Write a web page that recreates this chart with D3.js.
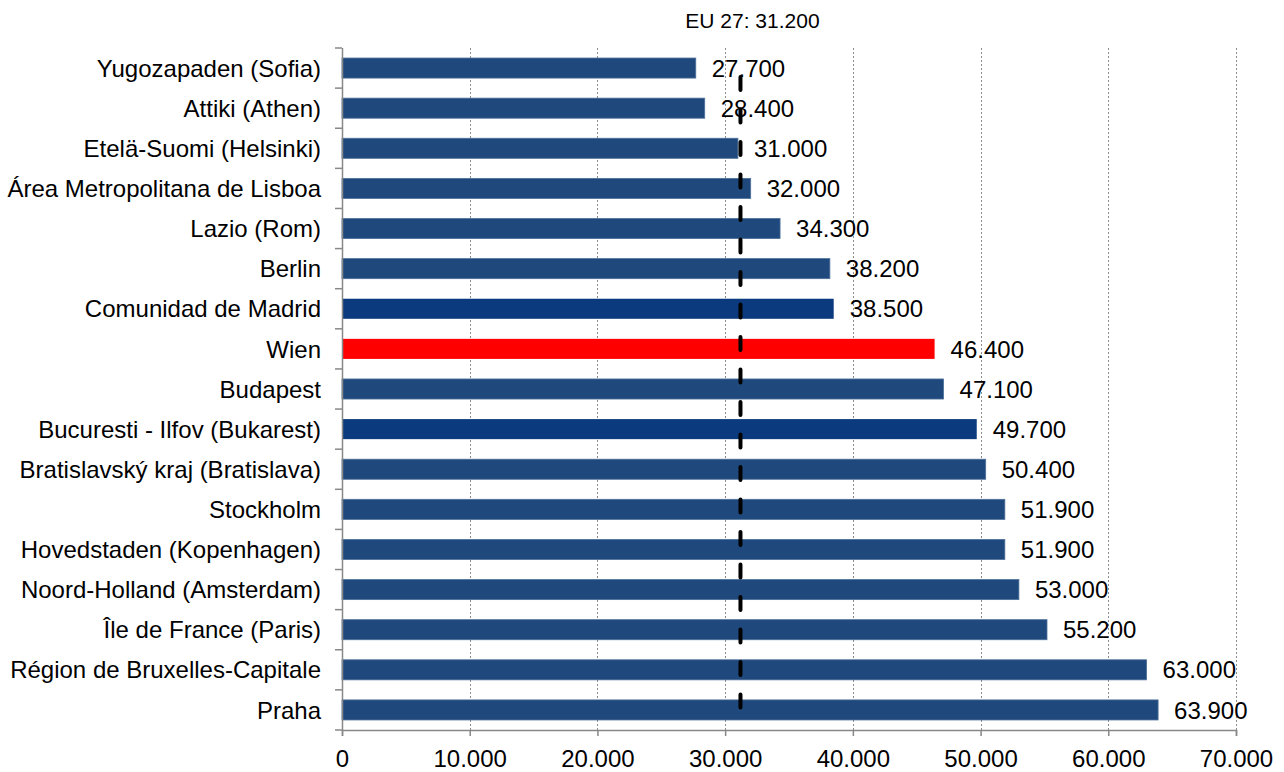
<!DOCTYPE html>
<html><head><meta charset="utf-8">
<script src="https://cdn.jsdelivr.net/npm/d3@7/dist/d3.min.js"></script>
<style>body{margin:0;background:#fff}svg{display:block}text{font-family:"Liberation Sans",Arial,sans-serif}</style>
</head><body><svg id="c" width="1284" height="772"></svg>
<script>
const categories = ["Yugozapaden (Sofia)","Attiki (Athen)","Etelä-Suomi (Helsinki)","Área Metropolitana de Lisboa","Lazio (Rom)","Berlin","Comunidad de Madrid","Wien","Budapest","Bucuresti - Ilfov (Bukarest)","Bratislavský kraj (Bratislava)","Stockholm","Hovedstaden (Kopenhagen)","Noord-Holland (Amsterdam)","Île de France (Paris)","Région de Bruxelles-Capitale","Praha"];
const values = [27700,28400,31000,32000,34300,38200,38500,46400,47100,49700,50400,51900,51900,53000,55200,63000,63900];
const highlight = ["normal","normal","normal","normal","normal","normal","dark","red","normal","dark","normal","normal","normal","normal","normal","normal","normal"];
const euAverage = 31200;
const euLabel = "EU 27: 31.200";
const xTicks = [0,10000,20000,30000,40000,50000,60000,70000];

const colors = {normal:"#1F497D", dark:"#0B3A7E", red:"#FF0000"};
const fmt = v => v === 0 ? "0" : d3.format(",.3f")(v/1000).replace(",", "");

const svg = d3.select("#c");
const m = {left:342, top:48, right:1236, bottom:730};
const x = d3.scaleLinear().domain([0,70000]).range([m.left, m.right]);
const y = d3.scaleBand().domain(categories).range([m.top, m.bottom]).paddingInner(0.5).paddingOuter(0.25);
const FS = 24;

// gridlines
svg.append("g").selectAll("line").data(xTicks.slice(1)).join("line")
  .attr("x1", d=>Math.round(x(d))+0.5).attr("x2", d=>Math.round(x(d))+0.5)
  .attr("y1", m.top).attr("y2", m.bottom)
  .attr("stroke","#8c8c8c").attr("stroke-width",1).attr("stroke-dasharray","2,2");

// bars
svg.append("g").selectAll("rect").data(categories).join("rect")
  .attr("x", x(0)).attr("y", d=>y(d))
  .attr("width", (d,i)=>x(values[i])-x(0)).attr("height", y.bandwidth())
  .attr("fill", (d,i)=>colors[highlight[i]])
  .attr("stroke", (d,i)=>highlight[i]==="normal" ? "#4D6F99" : "none").attr("stroke-width",0.8);

// value labels
svg.append("g").selectAll("text").data(categories).join("text")
  .attr("x", (d,i)=>x(values[i])+16).attr("y", d=>y(d)+y.bandwidth()/2)
  .attr("dy","0.36em").attr("font-size",FS).attr("fill","#000")
  .text((d,i)=>fmt(values[i]));

// y axis
const yAxis = svg.append("g").attr("transform",`translate(${m.left},0)`);
yAxis.append("line").attr("x1",0.5).attr("x2",0.5).attr("y1",m.top).attr("y2",m.bottom).attr("stroke","#888").attr("stroke-width",1.5);
const bounds = d3.range(categories.length+1).map(i=>m.top + i*(m.bottom-m.top)/categories.length);
yAxis.selectAll("line.t").data(bounds).join("line").attr("class","t")
  .attr("x1",-7).attr("x2",0).attr("y1",d=>d).attr("y2",d=>d).attr("stroke","#888").attr("stroke-width",1.5);
yAxis.selectAll("text").data(categories).join("text")
  .attr("x",-21).attr("y",d=>y(d)+y.bandwidth()/2).attr("dy","0.36em")
  .attr("text-anchor","end").attr("font-size",FS).attr("fill","#000").text(d=>d);

// x axis
const xAxis = svg.append("g").attr("transform",`translate(0,${m.bottom})`)
  .call(d3.axisBottom(x).tickValues(xTicks).tickFormat(fmt).tickSize(6).tickPadding(14));
xAxis.select(".domain").attr("stroke","#888").attr("stroke-width",1.5);
xAxis.selectAll(".tick line").attr("stroke","#888").attr("stroke-width",1.5);
xAxis.selectAll(".tick text").attr("font-size",FS).attr("font-family","Liberation Sans, Arial, sans-serif").attr("fill","#000");

// EU average dashed line
const first = categories[0], last = categories[categories.length-1];
svg.append("line")
  .attr("x1", x(euAverage)).attr("x2", x(euAverage))
  .attr("y1", y(first)+y.bandwidth()/2+9).attr("y2", y(last)+y.bandwidth()/2+2)
  .attr("stroke","#000").attr("stroke-width",4).attr("stroke-linecap","round")
  .attr("stroke-dasharray","13,19.5");

svg.append("text").attr("x", x(euAverage)+12).attr("y", 28).attr("text-anchor","middle")
  .attr("font-size",21).attr("fill","#000").text(euLabel);
</script></body></html>
